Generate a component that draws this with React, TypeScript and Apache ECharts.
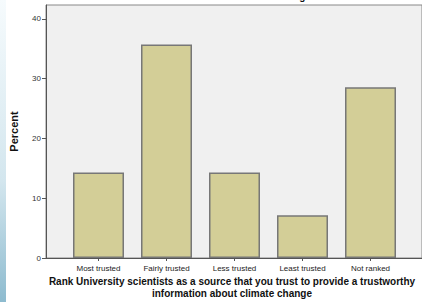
import React, { useEffect, useRef } from "react";
import * as echarts from "echarts";

const categories = ["Most trusted", "Fairly trusted", "Less trusted", "Least trusted", "Not ranked"];
const percents = [14.29, 35.71, 14.29, 7.14, 28.57];
const yTicks = [0, 10, 20, 30, 40];
const xTitle = "Rank University scientists as a source that you trust to provide a trustworthy\ninformation about climate change";
const topTitle = "information about climate change";

export default function App() {
  const ref = useRef<HTMLDivElement>(null);
  useEffect(() => {
    const chart = echarts.init(ref.current!, null, { renderer: "svg" });
    const yMax = 42.34;
    chart.setOption({
      animation: false,
      backgroundColor: "#ffffff",
      graphic: [
        {
          type: "rect",
          shape: { x: 0, y: 0, width: 6, height: 302 },
          style: {
            fill: new echarts.graphic.LinearGradient(0, 0, 0, 1, [
              { offset: 0, color: "#f6fbfd" },
              { offset: 0.6, color: "#d3e6ee" },
              { offset: 1, color: "#8dbbcf" },
            ]),
          },
          z: -1,
        },
        {
          type: "text",
          x: 231,
          y: -9,
          style: {
            text: topTitle,
            font: "bold 10px 'Liberation Sans', Arial, sans-serif",
            fill: "#111",
            align: "center",
            verticalAlign: "top",
          },
        },
        {
          type: "text",
          x: 232,
          y: 275,
          style: {
            text: xTitle,
            font: "bold 10px 'Liberation Sans', Arial, sans-serif",
            fill: "#111",
            align: "center",
            verticalAlign: "top",
            lineHeight: 12,
          },
        },
      ],
      grid: [
        { left: 45, right: 0, top: 5, bottom: 44, show: true, backgroundColor: "#f0f0f0", borderColor: "#888", borderWidth: 1 },
        { left: 64.5, width: 340, top: 5, bottom: 44 },
      ],
      xAxis: [
        {
          gridIndex: 0,
          type: "value",
          min: 0,
          max: 1,
          axisLine: { show: true, lineStyle: { color: "#555", width: 1 } },
          axisTick: { show: false },
          axisLabel: { show: false },
          splitLine: { show: false },
        },
        {
          gridIndex: 1,
          type: "category",
          data: categories,
          axisLine: { show: false },
          axisTick: { show: true, alignWithLabel: true, length: 3, lineStyle: { color: "#555" } },
          axisLabel: { fontSize: 8, color: "#222", margin: 6, fontFamily: "'Liberation Sans', Arial, sans-serif", interval: 0 },
          splitLine: { show: false },
        },
      ],
      yAxis: [
        {
          gridIndex: 0,
          type: "value",
          min: 0,
          max: yMax,
          name: "Percent",
          nameLocation: "middle",
          nameGap: 27,
          nameTextStyle: { fontSize: 11, fontWeight: "bold", color: "#111", fontFamily: "'Liberation Sans', Arial, sans-serif" },
          axisLine: { show: true, lineStyle: { color: "#555", width: 1 } },
          axisTick: { show: true, inside: false, length: 4, customValues: yTicks, lineStyle: { color: "#555" } },
          axisLabel: { inside: false, fontSize: 8, color: "#333", margin: 5, customValues: yTicks, fontFamily: "'Liberation Sans', Arial, sans-serif" },
          splitLine: { show: false },
        },
        {
          gridIndex: 1,
          type: "value",
          min: 0,
          max: yMax,
          show: false,
          splitLine: { show: false },
        },
      ],
      series: [
        {
          type: "bar",
          xAxisIndex: 1,
          yAxisIndex: 1,
          data: percents,
          barCategoryGap: "25%",
          itemStyle: { color: "#d3ce97", borderColor: "#777", borderWidth: 1.5 },
        },
      ],
    });
    return () => chart.dispose();
  }, []);
  return <div ref={ref} style={{ position: "fixed", left: 0, top: 0, width: 422, height: 302 }} />;
}
